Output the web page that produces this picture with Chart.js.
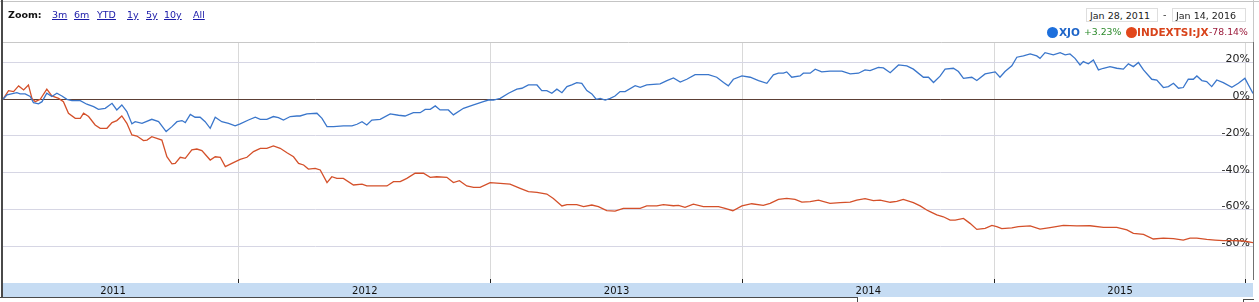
<!DOCTYPE html>
<html>
<head>
<meta charset="utf-8">
<script src="https://cdn.jsdelivr.net/npm/chart.js@4.4.0/dist/chart.umd.min.js"></script>
<style>
    html, body { margin: 0; padding: 0; background: #fff; }
    #page { position: relative; width: 1259px; height: 302px; overflow: hidden; font-family: "DejaVu Sans", Verdana, sans-serif; }
    #chart { position: absolute; left: 0; top: 0; }
    .abs { position: absolute; white-space: nowrap; line-height: 12px; }
    .zoomLabel { left: 8px; top: 9px; font-size: 9.5px; font-weight: bold; color: #111; }
    .zoomLink { top: 9px; font-size: 9.5px; color: #1a1aa8; text-decoration: underline; }
    .dateBox { top: 8px; height: 14px; border: 1px solid #dedede; background: #fff; font-size: 9.5px; color: #222; line-height: 14px; padding-left: 3px; box-sizing: border-box; }
    .dot { position: absolute; top: 27px; width: 11px; height: 11px; border-radius: 50%; }
    .name { top: 26px; font-size: 10.5px; font-weight: bold; }
    .pct { top: 26px; font-size: 9.3px; }
    .line { position: absolute; }
</style>
</head>
<body>
<div id="page">
    <canvas id="chart" width="1259" height="302"></canvas>

    <!-- outer frame -->
    <div class="line" style="left:0;top:1px;width:1259px;height:1px;background:#c4c4c4"></div>
    <div class="line" style="left:1px;top:0;width:2px;height:298px;background:#4a4a4a"></div>
    <div class="line" style="left:1253px;top:0;width:1px;height:42px;background:#c8c8c8"></div>
    <div class="line" style="left:0;top:297px;width:858px;height:1px;background:#4a4a4a"></div>
    <div class="line" style="left:857px;top:297px;width:1px;height:5px;background:#4a4a4a"></div>
    <div class="line" style="left:1243px;top:299px;width:11px;height:1px;background:#4a4a4a"></div>
    <div class="line" style="left:1243px;top:299px;width:1px;height:3px;background:#4a4a4a"></div>

    <!-- zoom links -->
    <div class="abs zoomLabel">Zoom:</div>
    <div class="abs zoomLink" style="left:52px">3m</div>
    <div class="abs zoomLink" style="left:74px">6m</div>
    <div class="abs zoomLink" style="left:97px">YTD</div>
    <div class="abs zoomLink" style="left:127px">1y</div>
    <div class="abs zoomLink" style="left:146px">5y</div>
    <div class="abs zoomLink" style="left:164px">10y</div>
    <div class="abs zoomLink" style="left:193px">All</div>

    <!-- date range -->
    <div class="abs dateBox" style="left:1086px;width:72px">Jan 28, 2011</div>
    <div class="abs" style="left:1163px;top:9px;font-size:9.5px;color:#222">-</div>
    <div class="abs dateBox" style="left:1172px;width:74px">Jan 14, 2016</div>

    <!-- legend -->
    <div class="dot" style="left:1047px;background:#1d6fdc"></div>
    <div class="abs name" style="left:1059px;color:#1d64c8">XJO</div>
    <div class="abs pct" style="left:1084px;color:#2b8a2b">+3.23%</div>
    <div class="dot" style="left:1126px;background:#e2471b"></div>
    <div class="abs name" style="left:1137px;color:#d8441c">INDEXTSI:JX</div>
    <div class="abs pct" style="left:1209px;color:#9c1c3c">-78.14%</div>
</div>

<script>
// x values are fractional years, y values are % change since Jan 28, 2011
const xjoYears = [
    2011.063, 2011.079, 2011.118, 2011.131, 2011.151, 2011.171, 2011.184, 2011.204, 2011.218, 2011.237,
    2011.257, 2011.277, 2011.297, 2011.317, 2011.337, 2011.370, 2011.396, 2011.423, 2011.442, 2011.469,
    2011.496, 2011.515, 2011.535, 2011.555, 2011.575, 2011.588, 2011.615, 2011.654, 2011.681, 2011.711,
    2011.734, 2011.754, 2011.774, 2011.787, 2011.807, 2011.826, 2011.846, 2011.866, 2011.886, 2011.906,
    2011.932, 2011.959, 2011.985, 2012.005, 2012.038, 2012.065, 2012.085, 2012.111, 2012.137, 2012.157,
    2012.177, 2012.204, 2012.230, 2012.243, 2012.270, 2012.310, 2012.330, 2012.350, 2012.376, 2012.415,
    2012.449, 2012.469, 2012.489, 2012.508, 2012.528, 2012.561, 2012.601, 2012.634, 2012.660, 2012.693,
    2012.720, 2012.740, 2012.760, 2012.780, 2012.799, 2012.832, 2012.852, 2012.892, 2012.932, 2012.971,
    2012.991, 2013.011, 2013.038, 2013.071, 2013.104, 2013.124, 2013.150, 2013.184, 2013.203, 2013.223,
    2013.243, 2013.263, 2013.283, 2013.303, 2013.322, 2013.342, 2013.362, 2013.382, 2013.402, 2013.419,
    2013.435, 2013.455, 2013.475, 2013.494, 2013.514, 2013.534, 2013.574, 2013.594, 2013.620, 2013.673,
    2013.700, 2013.726, 2013.753, 2013.779, 2013.812, 2013.865, 2013.898, 2013.925, 2013.944, 2013.964,
    2013.998, 2014.031, 2014.064, 2014.097, 2014.123, 2014.143, 2014.163, 2014.176, 2014.196, 2014.229,
    2014.242, 2014.269, 2014.289, 2014.315, 2014.348, 2014.395, 2014.428, 2014.461, 2014.487, 2014.507,
    2014.540, 2014.560, 2014.587, 2014.620, 2014.653, 2014.679, 2014.719, 2014.739, 2014.759, 2014.785,
    2014.805, 2014.838, 2014.858, 2014.878, 2014.911, 2014.931, 2014.964, 2015.004, 2015.023, 2015.043,
    2015.070, 2015.090, 2015.116, 2015.143, 2015.169, 2015.182, 2015.202, 2015.235, 2015.262, 2015.282,
    2015.301, 2015.321, 2015.341, 2015.354, 2015.374, 2015.394, 2015.414, 2015.434, 2015.460, 2015.487,
    2015.513, 2015.533, 2015.553, 2015.573, 2015.593, 2015.626, 2015.646, 2015.672, 2015.692, 2015.712,
    2015.732, 2015.751, 2015.771, 2015.791, 2015.805, 2015.825, 2015.844, 2015.864, 2015.884, 2015.910,
    2015.944, 2015.970, 2015.996, 2016.010, 2016.028
];
const xjoValues = [
    0.0, 2.4, 3.6, 2.9, 2.9, 1.5, -1.8, -2.5, -1.3, 3.3,
    1.5, 3.3, 1.8, 0.0, -0.7, -0.7, -2.7, -4.0, -5.5, -4.9,
    -2.2, -5.8, -3.1, -6.7, -13.4, -12.2, -13.1, -10.9, -12.2, -17.6,
    -14.9, -12.2, -11.6, -12.7, -8.2, -9.8, -9.8, -12.2, -15.8, -9.8,
    -12.2, -13.1, -14.5, -13.4, -11.3, -9.8, -10.9, -10.9, -9.4, -10.0,
    -11.3, -9.4, -9.1, -9.1, -8.0, -7.6, -10.4, -14.9, -14.9, -14.5,
    -14.5, -13.6, -12.2, -14.0, -11.3, -10.9, -8.0, -8.7, -9.1, -7.3,
    -7.3, -5.5, -5.5, -3.6, -5.8, -5.8, -8.5, -4.9, -3.1, -1.3,
    -0.4, -0.4, 0.5, 3.3, 5.5, 6.0, 7.8, 7.8, 4.7, 4.7,
    3.3, 5.5, 3.6, 6.9, 7.8, 9.1, 8.7, 4.7, 2.9, 0.0,
    0.5, -0.4, 0.5, 1.8, 4.2, 4.2, 7.4, 6.5, 7.8, 8.4,
    10.2, 11.6, 9.4, 10.9, 13.4, 13.4, 12.0, 9.1, 7.3, 10.9,
    12.7, 12.0, 10.2, 8.7, 13.3, 14.2, 14.2, 14.9, 12.0, 12.7,
    14.2, 14.2, 16.4, 14.9, 15.3, 15.3, 13.8, 14.2, 16.0, 15.6,
    17.4, 17.1, 14.5, 18.7, 18.2, 16.4, 12.0, 12.0, 9.1, 12.6,
    16.4, 16.9, 15.1, 11.4, 12.0, 10.2, 13.8, 14.9, 12.0, 15.1,
    18.2, 22.9, 23.6, 24.7, 23.6, 22.3, 25.4, 24.2, 25.4, 24.2,
    24.7, 22.3, 18.7, 20.5, 19.3, 21.4, 16.0, 16.9, 17.8, 16.9,
    16.4, 19.3, 17.8, 20.0, 16.0, 10.9, 10.5, 6.4, 6.9, 8.7,
    6.0, 6.4, 10.9, 10.9, 12.7, 10.2, 9.6, 6.9, 10.5, 9.1,
    6.5, 8.7, 11.4, 7.8, 3.2
];

const tsiYears = [
    2011.063, 2011.085, 2011.105, 2011.125, 2011.145, 2011.164, 2011.178, 2011.191, 2011.211, 2011.237,
    2011.257, 2011.284, 2011.303, 2011.323, 2011.350, 2011.370, 2011.383, 2011.403, 2011.429, 2011.449,
    2011.476, 2011.496, 2011.515, 2011.535, 2011.555, 2011.575, 2011.595, 2011.621, 2011.635, 2011.654,
    2011.674, 2011.694, 2011.714, 2011.734, 2011.747, 2011.767, 2011.787, 2011.813, 2011.833, 2011.853,
    2011.886, 2011.906, 2011.926, 2011.946, 2011.972, 2012.005, 2012.032, 2012.058, 2012.085, 2012.111,
    2012.137, 2012.164, 2012.191, 2012.217, 2012.237, 2012.257, 2012.276, 2012.303, 2012.323, 2012.350,
    2012.369, 2012.389, 2012.415, 2012.455, 2012.489, 2012.508, 2012.548, 2012.588, 2012.614, 2012.641,
    2012.667, 2012.700, 2012.733, 2012.760, 2012.786, 2012.826, 2012.852, 2012.876, 2012.905, 2012.932,
    2012.958, 2012.998, 2013.038, 2013.077, 2013.117, 2013.150, 2013.184, 2013.223, 2013.249, 2013.283,
    2013.303, 2013.342, 2013.369, 2013.402, 2013.428, 2013.461, 2013.494, 2013.527, 2013.554, 2013.594,
    2013.620, 2013.660, 2013.686, 2013.726, 2013.746, 2013.772, 2013.805, 2013.845, 2013.905, 2013.931,
    2013.962, 2013.998, 2014.037, 2014.083, 2014.110, 2014.143, 2014.176, 2014.209, 2014.236, 2014.269,
    2014.302, 2014.348, 2014.388, 2014.428, 2014.454, 2014.487, 2014.520, 2014.547, 2014.587, 2014.613,
    2014.639, 2014.679, 2014.706, 2014.732, 2014.745, 2014.772, 2014.798, 2014.825, 2014.845, 2014.878,
    2014.904, 2014.931, 2014.964, 2014.991, 2015.010, 2015.030, 2015.070, 2015.096, 2015.143, 2015.182,
    2015.222, 2015.275, 2015.328, 2015.381, 2015.434, 2015.487, 2015.527, 2015.553, 2015.593, 2015.632,
    2015.672, 2015.712, 2015.751, 2015.778, 2015.805, 2015.844, 2015.877, 2015.910, 2015.950, 2015.990,
    2016.028
];
const tsiValues = [
    0.0, 4.7, 4.2, 7.3, 5.1, 7.8, 0.5, -1.3, 0.0, 5.5,
    1.8, 0.5, -1.3, -7.6, -10.4, -10.4, -7.6, -9.4, -14.0, -15.8,
    -15.8, -12.7, -11.6, -9.1, -13.1, -19.4, -20.0, -22.5, -22.2, -20.4,
    -21.3, -22.2, -31.3, -35.2, -34.9, -31.6, -32.2, -27.6, -27.1, -28.0,
    -33.1, -31.3, -31.6, -36.7, -34.9, -32.7, -31.6, -28.5, -26.7, -26.7,
    -25.4, -26.7, -29.1, -31.3, -34.9, -35.8, -38.0, -37.6, -38.5, -45.4,
    -42.2, -43.1, -43.1, -46.7, -46.2, -47.2, -47.2, -47.2, -44.9, -44.9,
    -43.1, -40.3, -40.3, -42.5, -42.2, -42.5, -45.4, -44.3, -47.2, -48.0,
    -48.0, -45.4, -45.8, -46.2, -48.5, -50.3, -50.7, -51.6, -54.0, -58.1,
    -57.4, -57.4, -58.5, -57.6, -58.5, -60.7, -60.9, -59.4, -59.4, -59.4,
    -58.1, -58.1, -57.4, -58.0, -57.8, -58.9, -57.1, -58.5, -58.5, -59.4,
    -60.7, -58.1, -56.9, -57.8, -56.7, -54.5, -54.0, -54.5, -56.0, -55.8,
    -54.9, -56.7, -56.3, -56.0, -54.9, -54.1, -55.2, -54.9, -56.1, -55.6,
    -54.5, -56.3, -58.1, -60.3, -61.2, -63.0, -64.0, -65.8, -65.8, -64.9,
    -67.6, -70.9, -70.3, -68.7, -69.4, -70.5, -70.1, -69.4, -69.0, -70.7,
    -69.9, -68.7, -69.0, -68.9, -69.8, -69.8, -71.2, -73.0, -73.6, -76.1,
    -75.6, -75.9, -76.7, -75.6, -75.6, -76.3, -76.7, -77.0, -77.0, -77.2,
    -78.1
];

const yearLabels = ['2011', '2012', '2013', '2014', '2015'];
const yTickValues = [-80, -60, -40, -20, 0, 20];
const yMin = -97.9;
const yMax = 31.2;

const xMin = xjoYears[0];
const xMax = xjoYears[xjoYears.length - 1];
const yearEdges = yearLabels.map(y => Number(y) + 1);
const yearMids = yearLabels.map(y => Number(y) + 0.5);

Chart.defaults.font.family = '"DejaVu Sans", Verdana, sans-serif';

new Chart(document.getElementById('chart'), {
    type: 'line',
    data: {
        datasets: [
            {
                label: 'XJO',
                data: xjoYears.map((t, i) => ({ x: t, y: xjoValues[i] })),
                borderColor: '#3a76cb',
                borderWidth: 1.3,
                pointRadius: 0,
                tension: 0
            },
            {
                label: 'INDEXTSI:JX',
                data: tsiYears.map((t, i) => ({ x: t, y: tsiValues[i] })),
                borderColor: '#d4502a',
                borderWidth: 1.3,
                pointRadius: 0,
                tension: 0
            }
        ]
    },
    options: {
        responsive: false,
        animation: false,
        devicePixelRatio: 1,
        layout: { padding: { top: 42, left: 3, right: 6, bottom: 5 } },
        plugins: { legend: { display: false }, tooltip: { enabled: false } },
        scales: {
            // year boundaries: grid lines and tick marks
            x: {
                type: 'linear', position: 'bottom', min: xMin, max: xMax, weight: 0,
                afterBuildTicks: s => { s.ticks = yearEdges.map(v => ({ value: v })); },
                afterFit: s => { s.height = 4; s.paddingLeft = 0; s.paddingRight = 0; },
                grid: { color: '#d9d9d9', tickColor: '#222', tickLength: 4 },
                border: { display: false },
                ticks: { display: false }
            },
            // year names centred in each year, on the blue band
            x2: {
                type: 'linear', position: 'bottom', min: xMin, max: xMax, weight: 1,
                afterBuildTicks: s => { s.ticks = yearMids.map(v => ({ value: v })); },
                afterFit: s => { s.height = 14; s.paddingLeft = 0; s.paddingRight = 0; },
                backgroundColor: '#c6dcf3',
                grid: { display: false, drawTicks: false, tickLength: 0 },
                border: { display: false },
                ticks: {
                    padding: 2, autoSkip: false, maxRotation: 0, color: '#111',
                    font: { size: 10 },
                    callback: v => String(Math.floor(v))
                }
            },
            xTop: {
                type: 'linear', position: 'top', min: xMin, max: xMax,
                afterFit: s => { s.height = 0; },
                grid: { display: false },
                ticks: { display: false },
                border: { display: true, color: '#c8c8c8' }
            },
            y: {
                position: 'right', min: yMin, max: yMax,
                afterBuildTicks: s => { s.ticks = yTickValues.map(v => ({ value: v })); },
                afterFit: s => { s.width = 0; s.paddingTop = 0; s.paddingBottom = 0; },
                grid: {
                    drawTicks: false,
                    color: c => (c.tick && c.tick.value === 0) ? '#5c3f35' : '#d6d6e4'
                },
                border: { display: true, color: '#707070' },
                ticks: {
                    mirror: true, padding: -3, labelOffset: -3, color: '#222',
                    font: { size: 11 },
                    callback: v => v + '%'
                }
            }
        }
    }
});
</script>
</body>
</html>
